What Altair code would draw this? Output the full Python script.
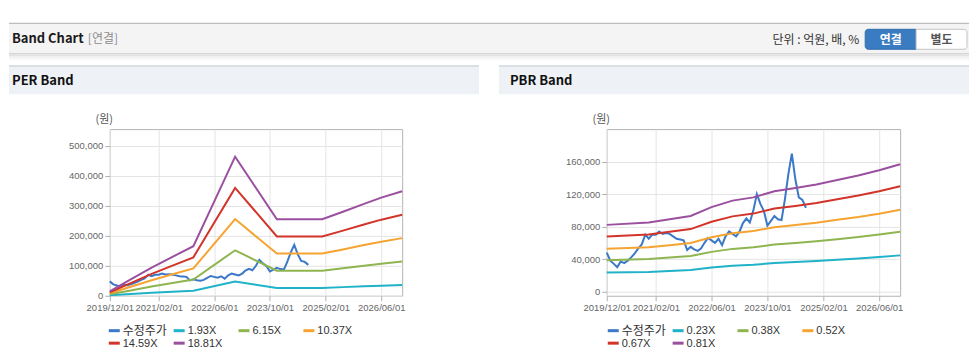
import altair as alt
import pandas as pd

# ---------------- data ----------------
price_dates = pd.date_range("2019-12-01", "2024-09-01", freq="MS").strftime("%Y-%m-%d").tolist()
price_values = [48000, 38000, 34000, 30000, 37000, 35000, 38000, 42000, 47000, 53000,
                58000, 70000, 65000, 70000, 70000, 74000, 71000, 72000, 71000, 68000,
                65000, 64000, 63000, 51000, 55000, 52000, 50000, 53000, 60000, 66000,
                63000, 60000, 65000, 57000, 68000, 74000, 71000, 68000, 74000, 84000,
                90000, 85000, 100000, 120000, 108000, 99000, 81000, 87000, 93000, 89000,
                88000, 113000, 145000, 170000, 138000, 116000, 113000, 103000]

per_names = ["수정주가", "1.93X", "6.15X", "10.37X", "14.59X", "18.81X"]
per_dates = ["2019-12-01", "2020-06-01", "2020-12-01", "2021-06-01", "2021-12-01", "2022-12-01",
             "2023-12-01", "2025-01-01", "2025-07-01", "2026-01-01", "2026-06-01", "2026-12-01"]
per_1_93 = [1500, 5600, 9700, 13300, 17000, 47600, 26200, 26200, 28800, 31500, 33600, 35800]
per_6_15 = [4900, 17800, 30800, 42400, 54100, 151700, 83500, 83500, 91600, 100200, 107000, 114000]
per_10_37 = [8300, 30100, 51900, 71600, 91200, 255800, 140800, 140800, 154500, 169000, 180400, 192300]
per_14_59 = [11700, 42300, 73000, 100700, 128200, 359900, 198100, 198100, 217400, 237800, 253900, 270500]
per_18_81 = [15000, 54500, 94100, 129800, 165300, 464000, 255400, 255400, 280300, 306600, 327300, 348700]
per_y_ticks = [0, 100000, 200000, 300000, 400000, 500000]

pbr_names = ["수정주가", "0.23X", "0.38X", "0.52X", "0.67X", "0.81X"]
pbr_dates = ["2019-12-01", "2020-12-01", "2021-06-01", "2021-12-01", "2022-06-01", "2022-12-01",
             "2023-06-01", "2023-12-01", "2024-06-01", "2024-12-01", "2025-06-01", "2025-12-01",
             "2026-06-01", "2026-12-01"]
pbr_0_23 = [23300, 24100, 25300, 26400, 29500, 31800, 32900, 35100, 36200, 37500, 39000, 40600, 42400, 44500]
pbr_0_38 = [38500, 39900, 41800, 43600, 48800, 52500, 54400, 57900, 59800, 61900, 64500, 67100, 70100, 73600]
pbr_0_52 = [52700, 54600, 57100, 59700, 66800, 71900, 74500, 79300, 81900, 84700, 88300, 91800, 95900, 100700]
pbr_0_67 = [67900, 70300, 73600, 76900, 86000, 92600, 96000, 102200, 105500, 109200, 113700, 118300, 123600, 129700]
pbr_0_81 = [82100, 85000, 89000, 93000, 104000, 112000, 116000, 123500, 127500, 132000, 137500, 143000, 149400, 156800]
pbr_y_ticks = [0, 40000, 80000, 120000, 160000]

x_ticks = ["2019-12-01", "2021-02-01", "2022-06-01", "2023-10-01", "2025-02-01", "2026-06-01"]
x_start, x_end = "2019-12-01", "2026-12-01"

series_colors = ["#3b78c7", "#20b2c8", "#8fb550", "#f5a431", "#d2342a", "#9b4f9f"]

# ---------------- layout helpers ----------------
def to_ms(s):
    return int(pd.Timestamp(s, tz="UTC").value // 10**6)

x_tick_ms = [to_ms(d) for d in x_ticks]
x_domain = [to_ms(x_start), to_ms(x_end)]

PX, PY = 109, 128      # PER plot origin in page pixels
QX = 607               # PBR plot left in page pixels
PW, QW, PH = 293, 294, 167
FONT_KR = "Noto Sans CJK KR"
FONT_NUM = "Liberation Sans"

one = pd.DataFrame({"k": [0]})


def box(x0, x1, y0, y1, fill, ox=PX, **kw):
    return alt.Chart(one).mark_rect(fill=fill, **kw).encode(
        x=alt.value(x0 - ox), x2=alt.value(x1 - ox),
        y=alt.value(y0 - PY), y2=alt.value(y1 - PY))


def label(x, y, s, size=12, color="#333", weight="normal", align="left", ox=PX, font=FONT_KR):
    return alt.Chart(one).mark_text(
        text=s, align=align, baseline="middle", fontSize=size, color=color,
        fontWeight=weight, font=font).encode(x=alt.value(x - ox), y=alt.value(y - PY))


def stroke_key(x0, x1, y, color, ox):
    return alt.Chart(one).mark_rule(color=color, strokeWidth=3).encode(
        x=alt.value(x0 - ox), x2=alt.value(x1 - ox), y=alt.value(y - PY))


def legend_layers(names, first_x, ox):
    layers = []
    rows_y = [330, 342.5]
    for i, (name, col) in enumerate(zip(names, series_colors)):
        cx = first_x + 65 * (i % 4)
        cy = rows_y[i // 4]
        layers.append(stroke_key(cx, cx + 11, cy, col, ox))
        if i == 0:
            layers.append(label(cx + 14, cy, name, size=12, color="#333", ox=ox))
        else:
            layers.append(label(cx + 14, cy + 0.5, name, size=11, color="#333", ox=ox, font=FONT_NUM))
    return layers


decor = [
    # tiny white corner marks fixing the drawing extent (page 8..970 x 8..348)
    box(8, 9, 8, 9, "white"),
    box(969, 970, 347, 348, "white"),
    # top header bar
    box(8, 970, 21.5, 23, "#bdbdbd"),
    box(8, 970, 23, 52, "#f4f4f4"),
    box(8, 970, 52, 53, "#c8c8c8"),
    box(8, 970, 53, 55, "#e2e2e2"),
    box(8, 970, 55, 57, "#efefef"),
    box(8, 970, 57, 59, "#f8f8f8"),
    label(11, 38, "Band Chart", size=13, color="#1a1a1a", weight="bold"),
    label(87, 38, "[연결]", size=12, color="#8c8c8c"),
    label(860, 38.5, "단위 : 억원, 배, %", size=12, color="#333", align="right"),
    box(866, 917, 28, 48, "#3a7cc2", stroke="#2f6cad", strokeWidth=1,
        cornerRadiusTopLeft=3, cornerRadiusBottomLeft=3),
    box(917, 968, 28, 48, "#ffffff", stroke="#c4c4c4", strokeWidth=1,
        cornerRadiusTopRight=3, cornerRadiusBottomRight=3),
    label(891.5, 38.5, "연결", size=12, color="white", weight="bold", align="center"),
    label(942.5, 38.5, "별도", size=12, color="#555", weight="bold", align="center"),
    # panel headers
    box(8, 479, 64, 93, "#eef2f7"),
    box(499, 970, 64, 93, "#eef2f7"),
    box(8, 479, 64, 65.5, "#d5d9de"),
    box(499, 970, 64, 65.5, "#d5d9de"),
    label(11, 80, "PER Band", size=13, color="#111", weight="bold"),
    label(510, 80, "PBR Band", size=13, color="#111", weight="bold"),
]


def panel(band_dates, bands, names, y_domain, y_ticks, width, extra):
    rows = [{"date": d, "value": v, "series": names[0]} for d, v in zip(price_dates, price_values)]
    for name, vals in zip(names[1:], bands):
        rows += [{"date": d, "value": v, "series": name} for d, v in zip(band_dates, vals)]
    df = pd.DataFrame(rows)

    xs = alt.Scale(type="utc", domain=x_domain, nice=False)
    ys = alt.Scale(domain=y_domain, nice=False, zero=False)

    lines = alt.Chart(df).mark_line(strokeWidth=2).encode(
        x=alt.X("date:T", scale=xs, axis=alt.Axis(
            values=x_tick_ms, format="%Y/%m/%d", grid=True, gridColor="#e4e4e4",
            domain=False, tickSize=5, tickColor="#b0b0b0", labelPadding=2,
            labelFontSize=9.5, labelFont=FONT_NUM, labelColor="#666",
            labelOverlap=False, labelFlush=False, labelBound=False, title=None)),
        y=alt.Y("value:Q", scale=ys, axis=alt.Axis(
            values=y_ticks, format=",d", grid=True, gridColor="#e4e4e4",
            domain=False, tickSize=5, tickColor="#b0b0b0", labelPadding=2,
            labelFontSize=9.5, labelFont=FONT_NUM, labelColor="#666",
            title="(원)", titleAngle=0, titleX=-6, titleY=-10, titleAlign="center",
            titleBaseline="middle", titleFontWeight="normal", titleFontSize=11,
            titleFont=FONT_KR, titleColor="#555")),
        color=alt.Color("series:N", scale=alt.Scale(domain=names, range=series_colors), legend=None),
    )
    return alt.layer(*extra, lines).properties(width=width, height=PH)


per = panel(per_dates, [per_1_93, per_6_15, per_10_37, per_14_59, per_18_81],
            per_names, [0, 556000], per_y_ticks, PW,
            decor + legend_layers(per_names, 108, PX))
pbr = panel(pbr_dates, [pbr_0_23, pbr_0_38, pbr_0_52, pbr_0_67, pbr_0_81],
            pbr_names, [-5300, 200200], pbr_y_ticks, QW,
            legend_layers(pbr_names, 608, QX))

chart = alt.hconcat(per, pbr, spacing=205, bounds="flush").resolve_scale(
    color="independent", x="independent", y="independent"
).properties(padding=0).configure_view(stroke="#b3b3b3", strokeWidth=1, fill="white")

chart.save("out.html", embed_options={"renderer": "svg", "actions": False})
